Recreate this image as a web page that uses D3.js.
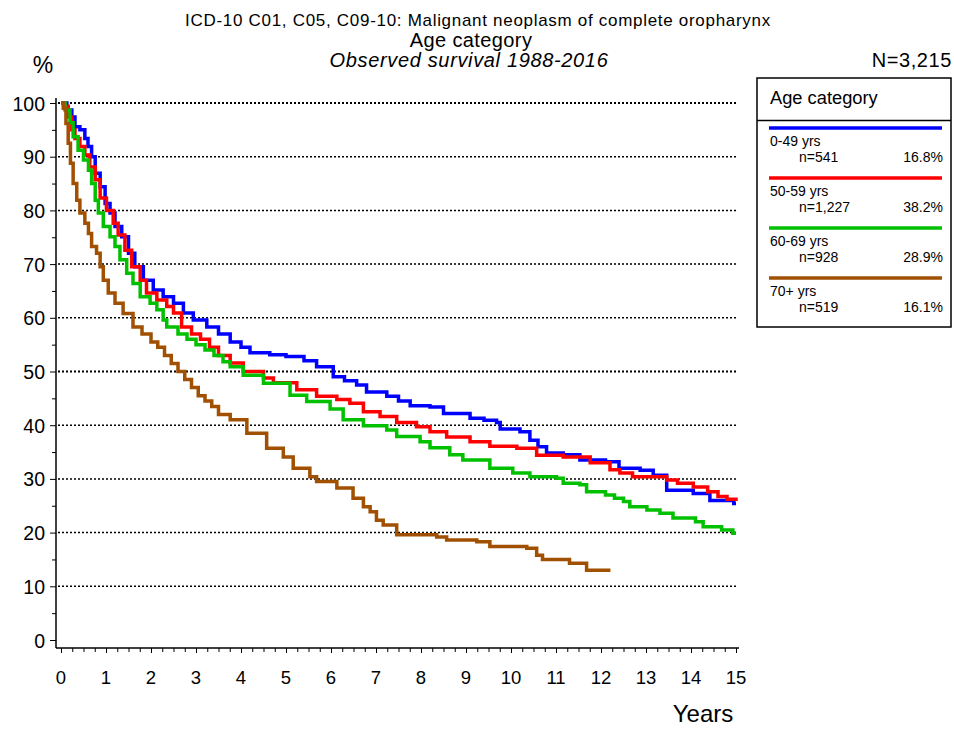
<!DOCTYPE html>
<html lang="en">
<head>
<meta charset="utf-8">
<title>Observed survival by age category</title>
<script src="https://d3js.org/d3.v7.js"></script>
<style>
  body { margin: 0; background: white; }
  text { font-family: "Liberation Sans", Arial, sans-serif; fill: black; }
</style>
</head>
<body>
<script>
const w = 954;
const h = 731;

// groups
const groups = ["0-49 yrs", "50-59 yrs", "60-69 yrs", "70+ yrs"];
const counts = ["n=541", "n=1,227", "n=928", "n=519"];
const shares = ["16.8%", "38.2%", "28.9%", "16.1%"];
const colors = ["#0000ff", "#ff0000", "#00c000", "#a05000"];

// survival curves (years, %)
const t049 = [0, 0.13, 0.24, 0.31, 0.42, 0.53, 0.6, 0.68, 0.76, 0.87, 0.98, 1.09, 1.2, 1.35, 1.5, 1.64, 1.83, 2.05, 2.27, 2.5, 2.72, 2.94, 3.24, 3.5, 3.76, 4.0, 4.2, 4.64, 5.0, 5.4, 5.68, 6.05, 6.3, 6.57, 6.79, 7.24, 7.5, 7.76, 8.2, 8.5, 9.09, 9.4, 9.68, 9.76, 10.2, 10.42, 10.6, 10.79, 11.16, 11.53, 12.1, 12.4, 12.87, 13.16, 13.46, 14.05, 14.42, 14.95, 15];
const s049 = [100, 98.7, 97.4, 95.6, 95, 93.4, 91.9, 90, 86.9, 84.4, 81.3, 79.5, 77, 75.1, 72, 69.5, 67, 65.2, 63.9, 62.7, 60.9, 59.6, 58.3, 57, 55.5, 54.5, 53.5, 53.1, 52.8, 52, 50.9, 49, 48.3, 47.5, 46.2, 45.4, 44.5, 43.6, 43.4, 42.2, 41.3, 40.9, 40.5, 39.3, 38.8, 37.2, 36, 34.8, 34.5, 33.5, 33.2, 32, 31.6, 30.7, 27.9, 27.3, 26, 25.4, 25.4];

const t5059 = [0, 0.07, 0.16, 0.24, 0.31, 0.42, 0.53, 0.64, 0.76, 0.87, 1.01, 1.16, 1.27, 1.42, 1.57, 1.76, 1.9, 2.13, 2.35, 2.5, 2.68, 2.9, 3.1, 3.3, 3.5, 3.76, 4.05, 4.5, 4.72, 5.24, 5.68, 6.13, 6.42, 6.72, 7.09, 7.46, 7.9, 8.2, 8.57, 9.09, 9.53, 10.13, 10.57, 11.16, 11.76, 12.2, 12.42, 12.7, 13.46, 13.7, 14.05, 14.37, 14.6, 14.8, 15];
const s5059 = [100, 99.4, 97.4, 95, 93.4, 91.9, 90.3, 88.1, 85.7, 82.3, 80, 77.6, 75.4, 72.6, 69.5, 67, 64.6, 63.3, 62.1, 60.9, 58.3, 57, 56, 54.5, 53, 51.6, 50, 48.8, 47.9, 46.6, 45.4, 44.8, 44.1, 42.5, 41.6, 40.5, 39.7, 38.8, 37.8, 36.9, 36.1, 35.7, 34.4, 34.1, 33, 31.7, 31.1, 30.4, 29.8, 29.2, 28.5, 27.6, 26.7, 26.2, 25.9];

const t6069 = [0, 0.09, 0.2, 0.27, 0.38, 0.5, 0.61, 0.68, 0.76, 0.83, 0.94, 1.09, 1.2, 1.31, 1.46, 1.6, 1.76, 1.98, 2.13, 2.27, 2.35, 2.6, 2.8, 3.0, 3.2, 3.4, 3.6, 3.76, 4.05, 4.5, 5.09, 5.46, 5.98, 6.27, 6.72, 7.24, 7.46, 7.98, 8.2, 8.64, 8.93, 9.53, 10.04, 10.42, 11.01, 11.16, 11.53, 11.68, 12.1, 12.3, 12.5, 12.64, 13.02, 13.31, 13.6, 14.1, 14.27, 14.68, 14.93, 15];
const s6069 = [100, 98.7, 96.3, 93.7, 91.2, 89.4, 87.5, 85, 81.9, 79.5, 77, 75.1, 73.3, 70.8, 68.3, 66.4, 63.9, 62.7, 61.5, 59.6, 58.3, 57, 56, 55, 54, 53, 51.8, 50.9, 49.3, 47.8, 45.6, 44.4, 43, 41, 39.9, 39.1, 37.9, 36.9, 35.8, 34.5, 33.5, 32, 31.1, 30.4, 30.1, 29.2, 28.9, 27.6, 27, 26.4, 25.8, 24.8, 24.2, 23.6, 22.7, 22, 21.1, 20.5, 19.9, 19.9];

const t70 = [0, 0.05, 0.11, 0.16, 0.21, 0.27, 0.35, 0.42, 0.53, 0.61, 0.68, 0.79, 0.87, 0.94, 1.05, 1.2, 1.38, 1.6, 1.8, 2.0, 2.15, 2.3, 2.45, 2.6, 2.75, 2.9, 3.05, 3.2, 3.35, 3.5, 3.76, 4.13, 4.57, 4.94, 5.16, 5.53, 5.68, 6.13, 6.49, 6.72, 6.87, 7.01, 7.16, 7.46, 8.35, 8.57, 9.24, 9.53, 10.35, 10.57, 10.7, 11.3, 11.68, 12.21];
const s70 = [100, 99, 96.2, 92.5, 88.8, 85, 81.9, 79.5, 77.6, 75.7, 73.3, 72, 69.5, 67, 64.6, 62.7, 60.8, 58.3, 57, 55.5, 54.5, 53, 51.5, 50, 48.5, 47, 45.5, 44.5, 43.5, 42, 41, 38.5, 35.7, 34.1, 32, 30.4, 29.5, 28.3, 26.4, 24.8, 23.9, 22.3, 21.4, 19.6, 19.2, 18.6, 18.3, 17.4, 17.1, 15.8, 15, 14.3, 13, 13];

const times = [t049, t5059, t6069, t70];
const survs = [s049, s5059, s6069, s70];

const yTicks = [0, 10, 20, 30, 40, 50, 60, 70, 80, 90, 100];
const xTicks = [0, 1, 2, 3, 4, 5, 6, 7, 8, 9, 10, 11, 12, 13, 14, 15];

const svg = d3.select("body")
  .append("svg")
  .attr("width", w)
  .attr("height", h);

svg.append("rect")
  .attr("width", w)
  .attr("height", h)
  .attr("fill", "white");

const x = d3.scaleLinear().domain([0, 15]).range([61, 736]);
const y = d3.scaleLinear().domain([0, 100]).range([640, 103]);

// titles
svg.append("text").attr("x", 478).attr("y", 26).attr("text-anchor", "middle")
  .style("font-size", "17px").style("letter-spacing", "0.7px")
  .text("ICD-10 C01, C05, C09-10: Malignant neoplasm of complete oropharynx");
svg.append("text").attr("x", 471).attr("y", 46.5).attr("text-anchor", "middle")
  .style("font-size", "20px").style("letter-spacing", "0.4px")
  .text("Age category");
svg.append("text").attr("x", 469).attr("y", 66.5).attr("text-anchor", "middle")
  .style("font-size", "20px").style("font-style", "italic").style("letter-spacing", "0.65px")
  .text("Observed survival 1988-2016");
svg.append("text").attr("x", 43).attr("y", 73).attr("text-anchor", "middle")
  .style("font-size", "23px")
  .text("%");
svg.append("text").attr("x", 952).attr("y", 67).attr("text-anchor", "end")
  .style("font-size", "20px").style("letter-spacing", "0.6px")
  .text("N=3,215");

// grid
svg.append("g")
  .selectAll("line")
  .data(yTicks.filter(d => d > 0))
  .enter()
  .append("line")
  .attr("x1", 58)
  .attr("x2", 738)
  .attr("y1", d => y(d))
  .attr("y2", d => y(d))
  .attr("stroke", "black")
  .attr("stroke-width", d => (d === 100 || d === 50) ? 2 : 1.5)
  .attr("stroke-dasharray", "2,2");

// y axis
const yAxis = d3.axisLeft(y)
  .tickValues(d3.range(0, 101, 5))
  .tickSize(0)
  .tickFormat("");
const gy = svg.append("g").attr("transform", "translate(56,0)").call(yAxis);
gy.select(".domain").remove();
gy.append("line").attr("x1", 0).attr("x2", 0).attr("y1", 98).attr("y2", 648)
  .attr("stroke", "black").attr("stroke-width", 1.5);
gy.selectAll(".tick line")
  .attr("x2", d => d % 10 === 0 ? -6 : -4)
  .attr("stroke", "black");
svg.append("g")
  .selectAll("text")
  .data(yTicks)
  .enter()
  .append("text")
  .attr("x", 45)
  .attr("y", d => y(d) + 7.5)
  .attr("text-anchor", "end")
  .style("font-size", "19.5px")
  .text(d => d);

// x axis
const xAxis = d3.axisBottom(x)
  .tickValues(d3.range(0, 15.01, 0.25))
  .tickSize(0)
  .tickFormat("");
const gx = svg.append("g").attr("transform", "translate(0,648)").call(xAxis);
gx.select(".domain").remove();
gx.append("line").attr("x1", 56).attr("x2", 739).attr("y1", 0).attr("y2", 0)
  .attr("stroke", "black").attr("stroke-width", 1.5);
gx.selectAll(".tick line")
  .attr("y2", d => Number.isInteger(d) ? 5 : 4)
  .attr("stroke", "black");
svg.append("g")
  .selectAll("text")
  .data(xTicks)
  .enter()
  .append("text")
  .attr("x", d => x(d))
  .attr("y", 684)
  .attr("text-anchor", "middle")
  .style("font-size", "18.5px")
  .text(d => d);
svg.append("text").attr("x", 703).attr("y", 722).attr("text-anchor", "middle")
  .style("font-size", "24px")
  .text("Years");

// curves
const line = d3.line()
  .x(d => x(d[0]))
  .y(d => y(d[1]))
  .curve(d3.curveStepAfter);

svg.append("g")
  .selectAll("path")
  .data(groups.map((g, i) => times[i].map((t, j) => [t, survs[i][j]])))
  .enter()
  .append("path")
  .attr("d", line)
  .attr("fill", "none")
  .attr("stroke", (d, i) => colors[i])
  .attr("stroke-width", 3.5)
  .attr("stroke-linejoin", "miter");

// legend
const lg = svg.append("g");
lg.append("rect").attr("x", 757).attr("y", 78).attr("width", 194).attr("height", 249)
  .attr("fill", "white").attr("stroke", "black").attr("stroke-width", 1.5);
lg.append("line").attr("x1", 757).attr("x2", 951).attr("y1", 120.5).attr("y2", 120.5)
  .attr("stroke", "black").attr("stroke-width", 1.5);
lg.append("text").attr("x", 770).attr("y", 104).style("font-size", "18.3px").text("Age category");

const item = lg.selectAll("g.item")
  .data(groups)
  .enter()
  .append("g")
  .attr("class", "item")
  .attr("transform", (d, i) => `translate(0,${128 + i * 50})`);
item.append("line").attr("x1", 769).attr("x2", 942).attr("y1", 0).attr("y2", 0)
  .attr("stroke", (d, i) => colors[i]).attr("stroke-width", 3.5);
item.append("text").attr("x", 770).attr("y", 18).style("font-size", "14px").text(d => d);
item.append("text").attr("x", 799).attr("y", 34).style("font-size", "14px").text((d, i) => counts[i]);
item.append("text").attr("x", 943).attr("y", 34).attr("text-anchor", "end")
  .style("font-size", "14px").text((d, i) => shares[i]);
</script>
</body>
</html>
